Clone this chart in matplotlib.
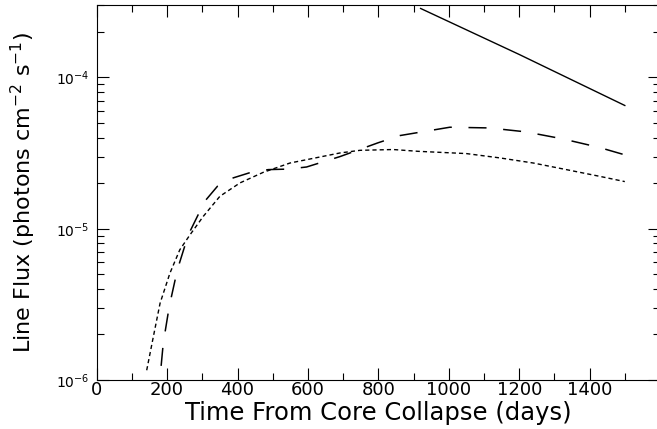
import numpy as np
import matplotlib
matplotlib.use("Agg")
import matplotlib.pyplot as plt
from matplotlib.ticker import FixedLocator, MultipleLocator, LogLocator, NullFormatter

# solid line (steep decline at late times)
solid_days = [920, 1200, 1500]
solid_flux = [2.86e-4, 1.42e-4, 6.53e-5]

# long-dashed curve
dash_days = [183, 189, 206, 229, 260, 307, 343, 388, 438, 487, 544, 596,
             691, 799, 861, 1003, 1115, 1219, 1323, 1427, 1500]
dash_flux = [1.24e-6, 1.75e-6, 3.06e-6, 5.35e-6, 9.1e-6, 1.52e-5, 1.91e-5,
             2.17e-5, 2.36e-5, 2.46e-5, 2.48e-5, 2.56e-5, 3.0e-5, 3.7e-5,
             4.13e-5, 4.69e-5, 4.64e-5, 4.37e-5, 3.93e-5, 3.45e-5, 3.08e-5]

# short-dashed curve
dot_days = [142, 161, 180, 208, 236, 265, 303, 350, 407, 473, 549, 643,
            691, 748, 842, 913, 1050, 1145, 1240, 1334, 1429, 1500]
dot_flux = [1.16e-6, 1.94e-6, 3.22e-6, 5.09e-6, 7.26e-6, 9.12e-6, 1.21e-5,
            1.64e-5, 2.01e-5, 2.36e-5, 2.72e-5, 3.01e-5, 3.17e-5, 3.30e-5,
            3.34e-5, 3.25e-5, 3.14e-5, 2.94e-5, 2.72e-5, 2.46e-5, 2.22e-5,
            2.05e-5]

x_ticks = [0, 200, 400, 600, 800, 1000, 1200, 1400]

plt.rcParams['lines.scale_dashes'] = False
plt.rcParams['font.family'] = ['DejaVu Sans']

fig = plt.figure(figsize=(6.57, 4.29), dpi=100)
ax = fig.add_axes([0.1472, 0.1142, 0.8574, 0.8734])

ax.plot(solid_days, solid_flux, color='black', lw=1.0)
ax.plot(dash_days, dash_flux, color='black', lw=1.1, dashes=(13, 12))
ax.plot(dot_days, dot_flux, color='black', lw=1.0, dashes=(3, 2.2))

ax.set_yscale('log')
ax.set_xlim(0, 1600)
ax.set_ylim(1e-6, 3e-4)

ax.xaxis.set_major_locator(FixedLocator(x_ticks))
ax.xaxis.set_minor_locator(MultipleLocator(100))
ax.yaxis.set_major_locator(LogLocator(base=10))
ax.yaxis.set_minor_locator(LogLocator(base=10, subs=np.arange(2, 10)))
ax.yaxis.set_minor_formatter(NullFormatter())

ax.tick_params(which='both', direction='in', top=True, right=True, width=0.8)
ax.tick_params(which='major', length=8.5)
ax.tick_params(which='minor', length=5)
ax.tick_params(axis='x', labelsize=13, pad=1)
ax.tick_params(axis='y', labelsize=10, pad=5)
for s in ax.spines.values():
    s.set_linewidth(0.8)

ax.set_xlabel('Time From Core Collapse (days)', fontsize=17.5, labelpad=1)
ax.set_ylabel('Line Flux (photons cm$^{-2}$ s$^{-1}$)', fontsize=16, labelpad=13)

fig.savefig('out.png', dpi=100)
